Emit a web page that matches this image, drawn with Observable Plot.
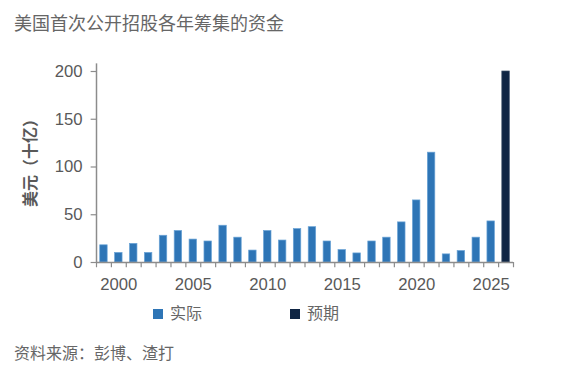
<!DOCTYPE html>
<html>
<head>
<meta charset="utf-8">
<script src="https://cdn.jsdelivr.net/npm/d3@7"></script>
<script src="https://cdn.jsdelivr.net/npm/@observablehq/plot@0.6"></script>
<style>
  body { margin: 0; background: #fff; font-family: "Liberation Sans", "Noto Sans CJK SC", sans-serif; color: #595959; }
  #wrap { position: relative; width: 562px; height: 382px; overflow: hidden; }
  #title { position: absolute; left: 14px; top: 10px; font-size: 18px; line-height: 24px; white-space: nowrap; font-family: "Noto Sans CJK SC", sans-serif; color: #666; }
  #chart { position: absolute; left: 0; top: 50px; }
  #ylabel { position: absolute; left: 29px; top: 159px; transform: translate(-50%, -50%) rotate(-90deg); font-size: 16px; line-height: 18px; font-weight: bold; white-space: nowrap; font-family: "Noto Sans CJK SC", sans-serif; color: #595959; }
  #legend { position: absolute; left: 0; top: 301px; width: 562px; height: 22px; font-size: 16px; font-family: "Noto Sans CJK SC", sans-serif; color: #666; }
  .item { position: absolute; top: 0; line-height: 22px; white-space: nowrap; }
  .sw { display: inline-block; width: 10px; height: 10px; vertical-align: middle; margin-right: 7px; position: relative; top: -1px; }
  #caption { position: absolute; left: 14px; top: 340px; font-size: 16px; line-height: 24px; white-space: nowrap; font-family: "Noto Sans CJK SC", sans-serif; color: #666; }
</style>
</head>
<body>
<div id="wrap">
  <div id="title"></div>
  <div id="chart"></div>
  <div id="ylabel"></div>
  <div id="legend"></div>
  <div id="caption"></div>
</div>
<script>
const titleText = "美国首次公开招股各年筹集的资金";
const yLabel = "美元（十亿）";
const captionText = "资料来源：彭博、渣打";
const seriesNames = ["实际", "预期"];
const seriesColors = ["#2e75b6", "#0f2544"];

const years = [1999, 2000, 2001, 2002, 2003, 2004, 2005, 2006, 2007, 2008, 2009, 2010, 2011, 2012,
               2013, 2014, 2015, 2016, 2017, 2018, 2019, 2020, 2021, 2022, 2023, 2024, 2025];
const actual = [18, 10, 19.5, 10, 28, 33, 24, 22, 38.5, 26, 12.5, 33, 23, 35,
                37, 22, 13, 9.5, 22, 26, 42, 65, 115, 8.5, 12, 26, 43];
const forecastYears = [2026];
const forecast = [200];

const yTicks = [0, 50, 100, 150, 200];
const xTickLabels = [2000, 2005, 2010, 2015, 2020, 2025];

const actualData = years.map((y, i) => ({year: y, value: actual[i]}));
const forecastData = forecastYears.map((y, i) => ({year: y, value: forecast[i]}));
const allYears = years.concat(forecastYears);
const bounds = allYears.map(y => y - 0.5).concat([allYears[allYears.length - 1] + 0.5]);
const x0 = bounds[0], x1 = bounds[bounds.length - 1];

document.getElementById("title").textContent = titleText;
document.getElementById("caption").textContent = captionText;
document.getElementById("ylabel").textContent = yLabel;

const legend = document.getElementById("legend");
const legendX = [153, 290];
seriesNames.forEach((n, i) => {
  const d = document.createElement("div");
  d.className = "item";
  d.style.left = legendX[i] + "px";
  d.innerHTML = `<span class="sw" style="background:${seriesColors[i]}"></span>${n}`;
  legend.appendChild(d);
});

const axisColor = "#8c8c8c";
const font = "'Liberation Sans', 'Noto Sans CJK SC', sans-serif";

const plot = Plot.plot({
  width: 562,
  height: 250,
  marginLeft: 96,
  marginRight: 49,
  marginTop: 21,
  marginBottom: 38,
  style: {fontFamily: font, color: "#595959", background: "transparent", overflow: "visible"},
  x: {type: "linear", domain: [x0, x1], axis: null},
  y: {domain: [0, 200], axis: null},
  marks: [
    Plot.rectY(actualData, {x1: d => d.year - 0.25, x2: d => d.year + 0.25, y: "value",
      fill: seriesColors[0], stroke: "#6aa3d6", strokeWidth: 0.7}),
    Plot.rectY(forecastData, {x1: d => d.year - 0.25, x2: d => d.year + 0.25, y: "value",
      fill: seriesColors[1], stroke: "#3a4d66", strokeWidth: 0.7}),
    Plot.ruleX([x0], {y1: 0, y2: 208, stroke: axisColor, strokeWidth: 1.5}),
    Plot.ruleY([0], {x1: x0, x2: x1, stroke: axisColor, strokeWidth: 1.5}),
    Plot.ruleX(bounds, {y1: 0, y2: -5.5, stroke: axisColor, strokeWidth: 1.2}),
    Plot.ruleY(yTicks, {x1: x0, x2: x0 - 0.36, stroke: axisColor, strokeWidth: 1.2}),
    Plot.text(yTicks, {x: x0, y: d => d, text: d => String(d), textAnchor: "end", dx: -14,
      fontSize: 16.7, fill: "#595959"}),
    Plot.text(xTickLabels, {x: d => d, y: 0, text: d => String(d), dy: 22,
      fontSize: 16.7, fill: "#595959"})
  ]
});
document.getElementById("chart").appendChild(plot);
</script>
</body>
</html>
